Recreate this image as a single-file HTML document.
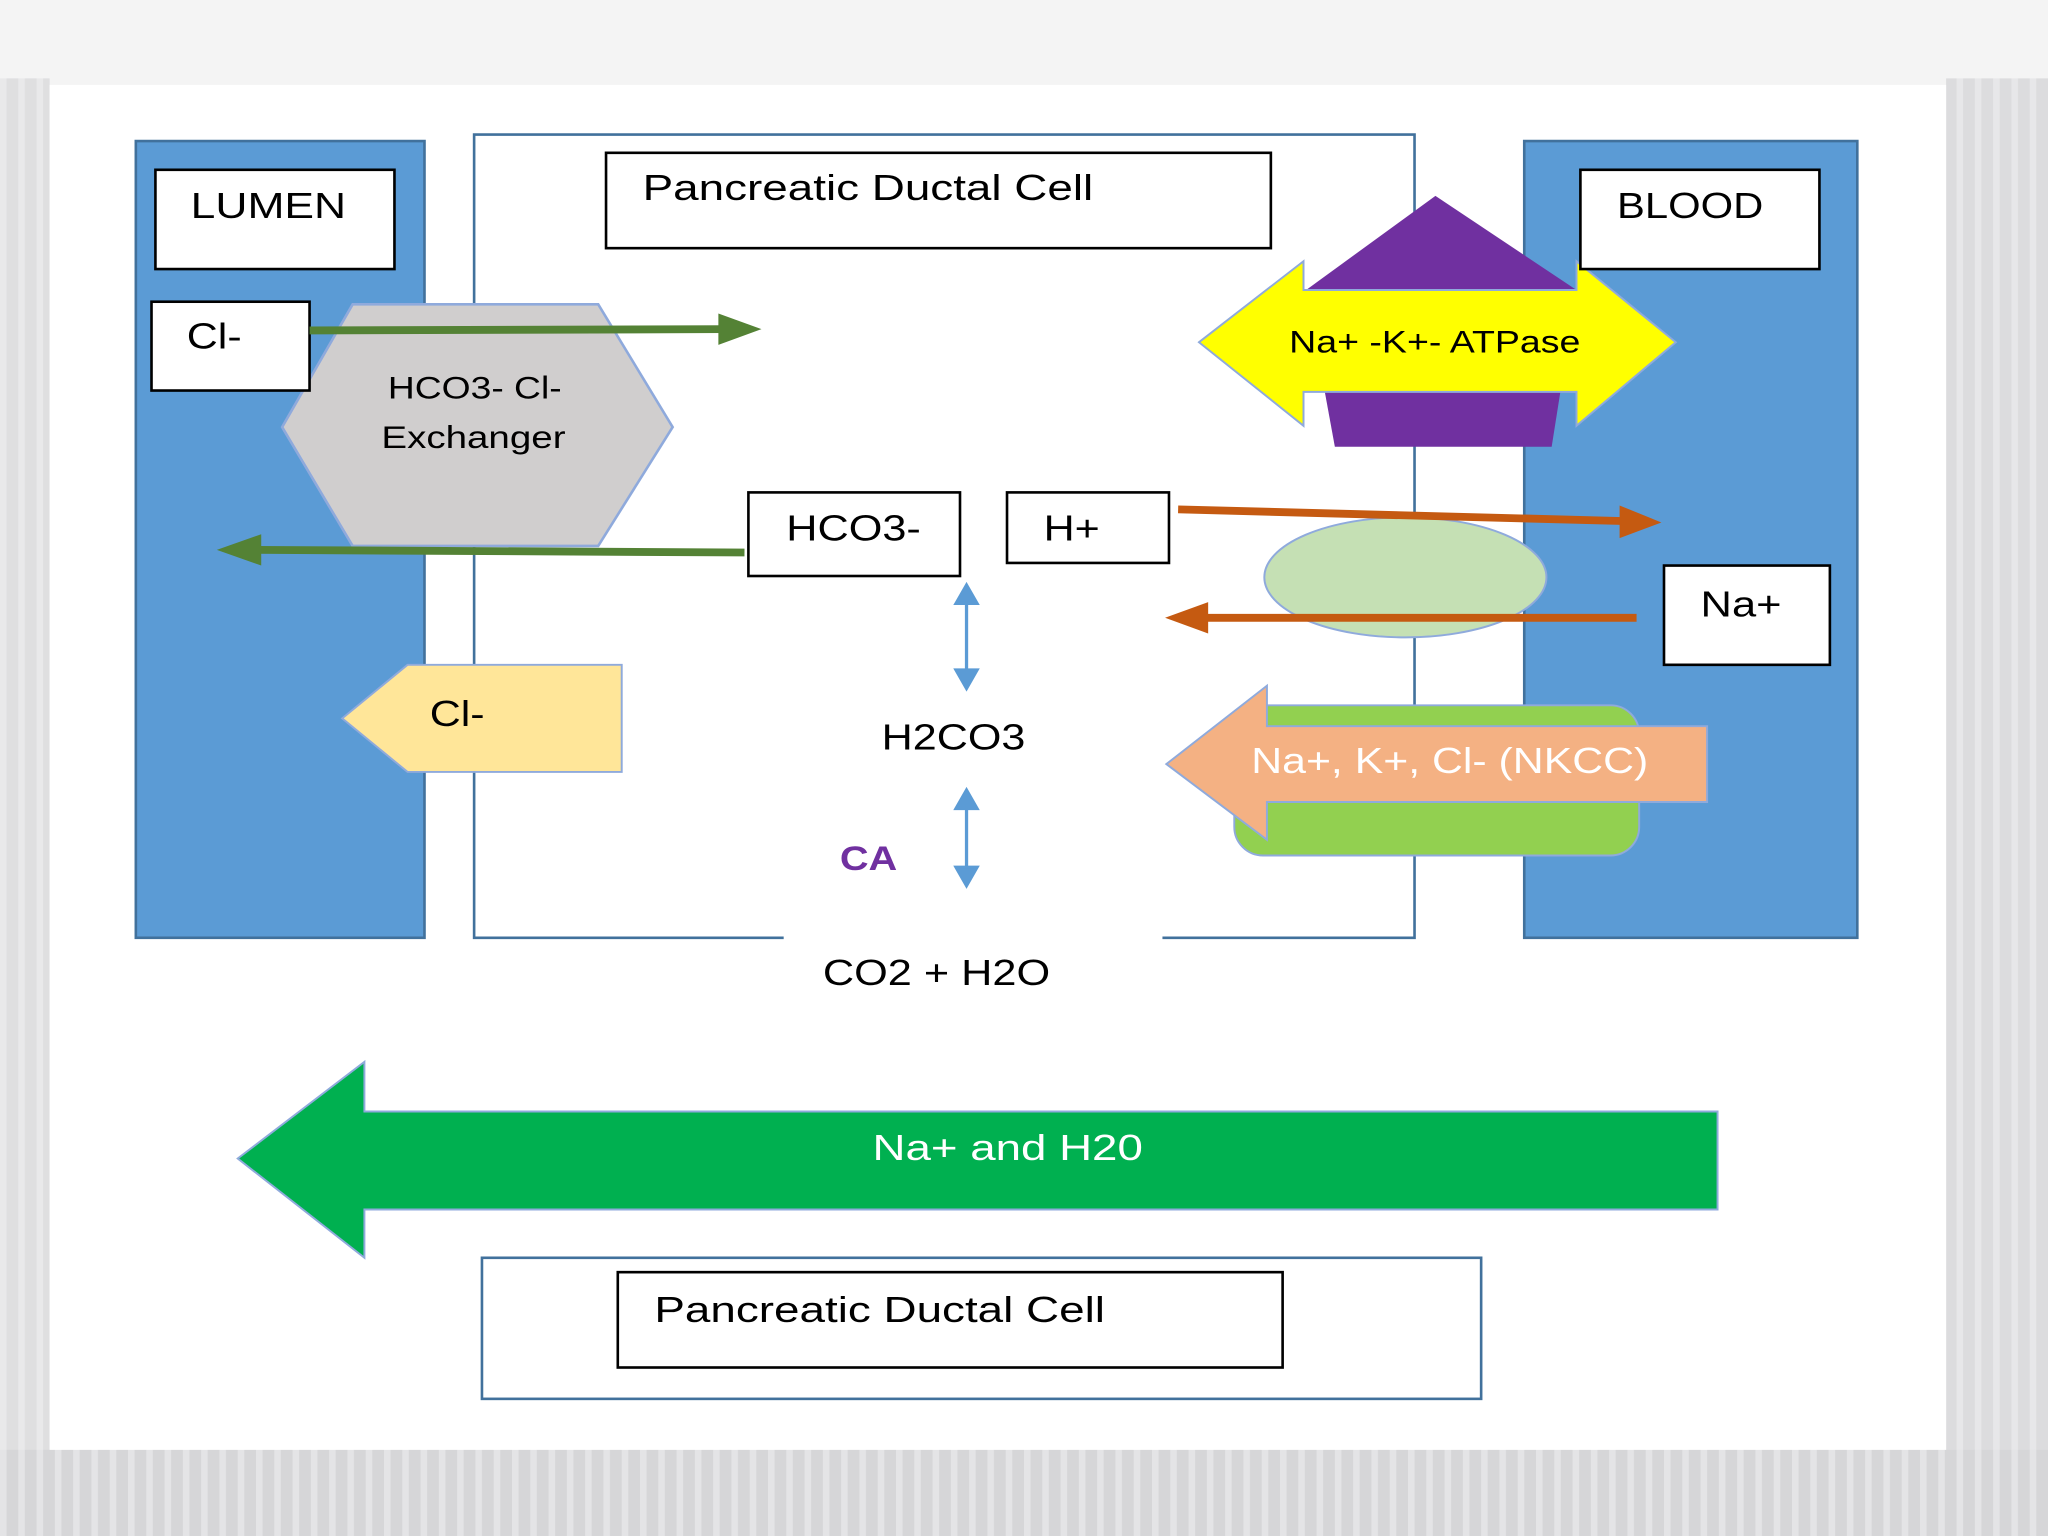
<!DOCTYPE html>
<html><head><meta charset="utf-8">
<style>
html,body{margin:0;padding:0;width:2048px;height:1536px;overflow:hidden;background:#f4f4f4;}
svg{display:block;}
text{font-family:"Liberation Sans",sans-serif;}
</style></head>
<body>
<svg width="2048" height="1536" viewBox="0 0 1568 1176" xmlns="http://www.w3.org/2000/svg">
<defs>
<pattern id="stripes" width="14" height="10" patternUnits="userSpaceOnUse">
<rect width="14" height="10" fill="#d6d6d8"/>
<rect width="5" height="10" fill="#e4e4e6"/>
</pattern>
</defs>
<rect width="1568" height="1176" fill="#f4f4f4"/>
<rect x="0" y="60" width="38" height="1116" fill="url(#stripes)" opacity="0.7"/>
<rect x="1490" y="60" width="78" height="1116" fill="url(#stripes)" opacity="0.8"/>
<rect x="0" y="1110" width="1568" height="66" fill="url(#stripes)"/>
<rect x="38" y="65" width="1452" height="1045" fill="#ffffff"/>

<rect x="104" y="108" width="221" height="610" fill="#5b9bd5" stroke="#41719c" stroke-width="2"/>
<path d="M600 718 L363 718 L363 103 L1083 103 L1083 718 L890 718" fill="none" stroke="#41719c" stroke-width="2"/>
<rect x="1167" y="108" width="255" height="610" fill="#5b9bd5" stroke="#41719c" stroke-width="2"/>

<rect x="119" y="130" width="183" height="76" fill="#fff" stroke="#000" stroke-width="2"/>
<text x="146" y="167" font-size="28" textLength="119" lengthAdjust="spacingAndGlyphs">LUMEN</text>

<polygon points="270,233 458,233 515,327 458,418 270,418 216,327" fill="#d0cece" stroke="#8faadc" stroke-width="2"/>
<text x="297" y="305" font-size="24" textLength="133" lengthAdjust="spacingAndGlyphs">HCO3- Cl-</text>
<text x="292" y="343" font-size="24" textLength="141" lengthAdjust="spacingAndGlyphs">Exchanger</text>

<rect x="116" y="231" width="121" height="68" fill="#fff" stroke="#000" stroke-width="2"/>
<text x="143" y="267" font-size="28" textLength="42" lengthAdjust="spacingAndGlyphs">Cl-</text>

<line x1="237" y1="253" x2="556" y2="252" stroke="#548235" stroke-width="6"/>
<polygon points="550,240 583,252 550,264" fill="#548235"/>
<line x1="570" y1="423" x2="195" y2="421" stroke="#548235" stroke-width="6"/>
<polygon points="200,409 166,421 200,433" fill="#548235"/>

<rect x="464" y="117" width="509" height="73" fill="#fff" stroke="#000" stroke-width="2"/>
<text x="492" y="153" font-size="28" textLength="345" lengthAdjust="spacingAndGlyphs">Pancreatic Ductal Cell</text>

<polygon points="1099,150 1207,222 1188,342 1022,342 1000,222" fill="#7030a0"/>
<polygon points="918,262 998,200 998,222 1207,222 1207,200 1283,262 1207,326 1207,300 998,300 998,326" fill="#ffff00" stroke="#8faadc" stroke-width="1.5"/>
<text x="987" y="270" font-size="24" textLength="223" lengthAdjust="spacingAndGlyphs">Na+ -K+- ATPase</text>

<rect x="1210" y="130" width="183" height="76" fill="#fff" stroke="#000" stroke-width="2"/>
<text x="1238" y="167" font-size="28" textLength="112" lengthAdjust="spacingAndGlyphs">BLOOD</text>

<rect x="573" y="377" width="162" height="64" fill="#fff" stroke="#000" stroke-width="2"/>
<text x="602" y="414" font-size="28" textLength="103" lengthAdjust="spacingAndGlyphs">HCO3-</text>
<rect x="771" y="377" width="124" height="54" fill="#fff" stroke="#000" stroke-width="2"/>
<text x="799" y="414" font-size="28" textLength="43" lengthAdjust="spacingAndGlyphs">H+</text>

<ellipse cx="1076" cy="442" rx="108" ry="46" fill="#c5e0b4" stroke="#8faadc" stroke-width="1.5"/>
<line x1="902" y1="390" x2="1245" y2="399" stroke="#c55a11" stroke-width="6"/>
<polygon points="1240,387 1272,400 1240,412" fill="#c55a11"/>
<line x1="1253" y1="473" x2="922" y2="473" stroke="#c55a11" stroke-width="6"/>
<polygon points="925,461 892,473 925,485" fill="#c55a11"/>

<rect x="1274" y="433" width="127" height="76" fill="#fff" stroke="#000" stroke-width="2"/>
<text x="1302" y="472" font-size="28" textLength="62" lengthAdjust="spacingAndGlyphs">Na+</text>

<g stroke="#5b9bd5" stroke-width="2.5" fill="#5b9bd5">
<line x1="740" y1="458" x2="740" y2="517"/>
<polygon points="732,462 740,448 748,462"/>
<polygon points="732,513 740,527 748,513"/>
<line x1="740" y1="615" x2="740" y2="668"/>
<polygon points="732,619 740,605 748,619"/>
<polygon points="732,664 740,678 748,664"/>
</g>
<text x="675" y="574" font-size="28" textLength="110" lengthAdjust="spacingAndGlyphs">H2CO3</text>
<text x="643" y="666" font-size="26" font-weight="bold" fill="#7030a0" textLength="44" lengthAdjust="spacingAndGlyphs">CA</text>
<text x="630" y="754" font-size="28" textLength="174" lengthAdjust="spacingAndGlyphs">CO2 + H2O</text>

<polygon points="262,550 312,509 476,509 476,591 312,591" fill="#ffe699" stroke="#8faadc" stroke-width="1.5"/>
<text x="329" y="556" font-size="28" textLength="42" lengthAdjust="spacingAndGlyphs">Cl-</text>

<rect x="945" y="540" width="310" height="115" rx="22" fill="#92d050" stroke="#8faadc" stroke-width="1.5"/>
<polygon points="893,585 970,525 970,556 1307,556 1307,614 970,614 970,643" fill="#f4b183" stroke="#8faadc" stroke-width="1.5"/>
<text x="958" y="592" font-size="28" fill="#fff" textLength="304" lengthAdjust="spacingAndGlyphs">Na+, K+, Cl- (NKCC)</text>

<polygon points="182,887 279,813 279,851 1315,851 1315,926 279,926 279,963" fill="#00b050" stroke="#8faadc" stroke-width="1.5"/>
<text x="668" y="888" font-size="28" fill="#fff" textLength="207" lengthAdjust="spacingAndGlyphs">Na+ and H20</text>

<rect x="369" y="963" width="765" height="108" fill="#fff" stroke="#41719c" stroke-width="2"/>
<rect x="473" y="974" width="509" height="73" fill="#fff" stroke="#000" stroke-width="2"/>
<text x="501" y="1012" font-size="28" textLength="345" lengthAdjust="spacingAndGlyphs">Pancreatic Ductal Cell</text>
</svg>
</body></html>
